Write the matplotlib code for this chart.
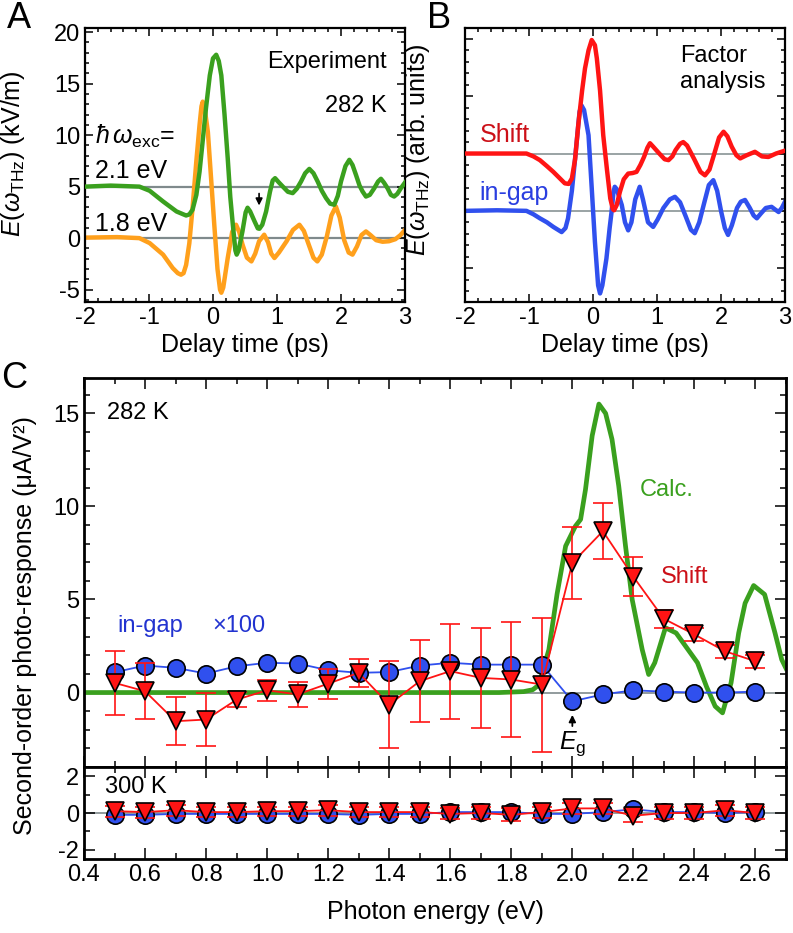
import matplotlib
matplotlib.use("Agg")
import matplotlib.pyplot as plt
import numpy as np
from matplotlib.ticker import MultipleLocator, FormatStrFormatter

plt.rcParams['font.family'] = ['Liberation Sans', 'DejaVu Sans']
plt.rcParams['mathtext.fontset'] = 'custom'
plt.rcParams['mathtext.rm'] = 'Liberation Sans'
plt.rcParams['mathtext.it'] = 'Liberation Sans:italic'
plt.rcParams['axes.unicode_minus'] = False

# ---- panel A: THz waveforms (experiment, 282 K)
t_21 = [-2.0, -1.6, -1.15, -0.99, -0.78, -0.57, -0.46, -0.42, -0.37, -0.32, -0.26, -0.21,
        -0.16, -0.11, -0.05, 0.0, 0.05, 0.09, 0.13, 0.18, 0.23, 0.27, 0.31, 0.35, 0.37,
        0.40, 0.46, 0.51, 0.54, 0.58, 0.65, 0.70, 0.725, 0.77, 0.83, 0.89, 0.933, 0.97,
        1.03, 1.09, 1.17, 1.245, 1.31, 1.376, 1.44, 1.505, 1.57, 1.635, 1.70, 1.766, 1.83,
        1.895, 1.95, 2.0, 2.07, 2.13, 2.18, 2.234, 2.29, 2.337, 2.39, 2.45, 2.52, 2.58,
        2.624, 2.67, 2.727, 2.78, 2.83, 2.88, 2.936, 3.0]
e_21 = [5.0, 5.1, 5.0, 4.6, 3.56, 2.59, 2.3, 2.2, 2.3, 2.75, 4.2, 6.46,
        9.5, 12.6, 15.8, 17.45, 17.8, 17.2, 15.8, 12.0, 7.76, 4.0, 1.3, -1.2, -1.6,
        -1.2, 0.65, 2.5, 2.95, 2.6, 1.62, 0.95, 0.91, 1.3, 2.59, 4.5, 5.6, 5.82,
        5.4, 5.01, 4.5, 4.37, 4.8, 5.5, 6.3, 6.72, 6.3, 5.5, 4.6, 3.89, 3.35,
        3.24, 4.1, 5.5, 7.0, 7.6, 7.1, 6.14, 5.1, 4.53, 4.04, 4.2, 4.85, 5.5,
        5.76, 5.4, 4.85, 4.2, 4.04, 4.3, 4.85, 5.4]
t_18 = [-2.0, -1.5, -1.15, -0.99, -0.78, -0.63, -0.55, -0.50, -0.46, -0.42, -0.37, -0.32,
        -0.26, -0.21, -0.18, -0.16, -0.13, -0.08, -0.03, 0.02, 0.07, 0.11, 0.13, 0.16,
        0.23, 0.30, 0.36, 0.41, 0.46, 0.53, 0.60, 0.66, 0.72, 0.80, 0.86, 0.91, 0.96,
        1.03, 1.15, 1.25, 1.35, 1.42, 1.5, 1.57, 1.63, 1.70, 1.78, 1.85, 1.92, 1.98,
        2.05, 2.12, 2.18, 2.25, 2.32, 2.39, 2.46, 2.55, 2.65, 2.75, 2.85, 2.93, 3.0]
e_18 = [0.05, 0.1, 0.0, -0.48, -1.6, -2.9, -3.4, -3.55, -3.4, -2.6, -0.5, 2.9,
        7.5, 11.0, 12.8, 13.25, 12.6, 10.3, 5.8, 1.3, -3.0, -5.0, -5.3, -4.8,
        -1.93, 0.6, 1.3, 0.6, -0.6, -1.9, -2.26, -1.5, -0.3, 0.33, -0.4, -1.5, -1.93,
        -1.4, -0.3, 0.8, 1.3, 0.7, -0.7, -1.9, -2.26, -1.6, 0.2, 2.2, 3.07, 2.0,
        -0.2, -1.4, -1.6, -0.8, 0.3, 0.65, 0.3, -0.2, -0.35, -0.3, -0.1, 0.3, 0.8]

# ---- panel B: factor analysis components (arb. units)
t_shift = [-2.0, -1.5, -1.04, -0.93, -0.83, -0.72, -0.62, -0.53, -0.44, -0.38, -0.33, -0.28,
           -0.23, -0.17, -0.125, -0.07, -0.02, 0.03, 0.06, 0.11, 0.16, 0.22, 0.27, 0.31,
           0.33, 0.37, 0.42, 0.48, 0.55, 0.62, 0.68, 0.74, 0.797, 0.85, 0.89, 0.94, 1.036,
           1.12, 1.18, 1.24, 1.29, 1.36, 1.41, 1.47, 1.578, 1.68, 1.75, 1.82, 1.896, 1.97,
           2.04, 2.1, 2.167, 2.24, 2.30, 2.40, 2.53, 2.64, 2.74, 2.86, 2.97, 3.0]
b_shift = [1.0, 1.0, 1.0, 0.95, 0.885, 0.78, 0.68, 0.58, 0.48, 0.47, 0.565, 0.9,
           1.5, 2.1, 2.485, 2.8, 2.98, 2.89, 2.66, 2.1, 1.32, 0.7, 0.216, 0.03,
           0.01, 0.1, 0.33, 0.55, 0.65, 0.66, 0.68, 0.8, 0.94, 1.1, 1.18, 1.12, 1.0,
           0.9, 0.885, 0.95, 1.06, 1.17, 1.2, 1.14, 0.91, 0.68, 0.62, 0.72, 1.0, 1.28,
           1.38, 1.3, 1.12, 0.97, 0.915, 0.97, 1.03, 0.95, 0.94, 1.0, 1.04, 1.05]
t_gap = [-2.0, -1.5, -1.04, -0.93, -0.83, -0.72, -0.62, -0.49, -0.43, -0.39, -0.33, -0.28,
         -0.21, -0.18, -0.14, -0.07, -0.02, 0.03, 0.08, 0.11, 0.146, 0.21, 0.26, 0.29, 0.32,
         0.34, 0.37, 0.45, 0.50, 0.55, 0.60, 0.66, 0.73, 0.78, 0.86, 0.94, 1.01, 1.1, 1.2,
         1.28, 1.36, 1.45, 1.53, 1.59, 1.66, 1.74, 1.81, 1.88, 1.94, 2.0, 2.06, 2.11, 2.17,
         2.25, 2.31, 2.375, 2.45, 2.51, 2.56, 2.62, 2.7, 2.79, 2.85, 2.9, 2.95, 3.0]
b_gap = [0.0, 0.01, 0.0, -0.06, -0.13, -0.2, -0.28, -0.37, -0.3, -0.13, 0.35, 0.91,
         1.73, 1.84, 1.76, 1.32, 0.4, -0.54, -1.30, -1.44, -1.30, -0.83, -0.3, -0.02, 0.33,
         0.42, 0.38, 0.1, -0.2, -0.34, -0.2, 0.2, 0.42, 0.2, -0.2, -0.28, -0.15, 0.05, 0.2,
         0.245, 0.15, -0.1, -0.33, -0.39, -0.2, 0.15, 0.45, 0.535, 0.35, 0.0, -0.3, -0.42, -0.25,
         0.05, 0.16, 0.19, 0.05, -0.08, -0.13, -0.05, 0.05, 0.07, 0.02, -0.02, 0.05, 0.16]

# ---- panel C: spectra
energy = [0.5, 0.6, 0.7, 0.8, 0.9, 1.0, 1.1, 1.2, 1.3, 1.4, 1.5, 1.6, 1.7, 1.8, 1.9,
          2.0, 2.1, 2.2, 2.3, 2.4, 2.5, 2.6]
ingap_282 = [1.09, 1.45, 1.33, 1.02, 1.41, 1.6, 1.56, 1.2, 1.06, 1.1, 1.45, 1.6, 1.5, 1.5, 1.5,
             -0.47, -0.1, 0.12, 0.05, 0.0, 0.0, 0.05]
shift_282 = [0.52, 0.07, -1.54, -1.45, -0.38, 0.12, -0.1, 0.48, 1.06, -0.65, 0.61, 1.15, 0.79,
             0.7, 0.43, 6.97, 8.67, 6.22, 3.96, 3.12, 2.22, 1.68]
shift_282_err = [1.7, 1.5, 1.3, 1.4, 0.4, 0.55, 0.65, 0.8, 0.75, 2.35, 2.2, 2.55, 2.7, 3.1, 3.6,
                 1.95, 1.5, 1.05, 0.5, 0.36, 0.36, 0.35]
calc_e = [0.4, 1.0, 1.5, 1.76, 1.84, 1.87, 1.89, 1.923, 1.95, 1.978, 2.01, 2.027, 2.043, 2.065,
          2.087, 2.109, 2.13, 2.152, 2.174, 2.196, 2.229, 2.25, 2.27, 2.305, 2.34, 2.375, 2.41,
          2.44, 2.468, 2.492, 2.52, 2.545, 2.566, 2.594, 2.63, 2.664, 2.686, 2.7]
calc_v = [0, 0, 0, 0, 0.05, 0.15, 0.4, 2.3, 5.3, 7.87, 8.94, 9.3, 10.9, 13.8,
          15.5, 15.0, 13.6, 11.1, 7.9, 5.0, 2.3, 0.97, 1.6, 3.48, 3.2, 2.4, 1.6,
          0.3, -0.74, -1.09, 0.52, 3.2, 4.8, 5.75, 5.27, 3.2, 1.77, 1.3]
ingap_300 = [-0.1, -0.1, -0.05, -0.05, -0.05, -0.05, -0.05, -0.05, -0.1, -0.05, -0.05, 0.05,
             0.05, 0.05, -0.05, -0.05, 0.05, 0.2, 0.05, 0.05, 0.0, 0.05]
shift_300 = [0.1, 0.05, 0.15, 0.05, 0.05, 0.1, 0.1, 0.15, 0.05, 0.05, 0.05, -0.05, 0.0, -0.1,
             0.05, 0.25, 0.25, -0.15, 0.0, 0.0, 0.15, 0.0]
shift_300_err = [0.3, 0.3, 0.3, 0.25, 0.25, 0.25, 0.25, 0.3, 0.25, 0.25, 0.25, 0.3, 0.3, 0.35,
                 0.3, 0.3, 0.3, 0.35, 0.3, 0.3, 0.3, 0.3]

GREEN = '#3aa01e'
ORANGE = '#ffa01c'
RED = '#ff1414'
BLUE = '#3050ee'
GREY = '#7f8a8c'
TICK = 17
LAB = 18
TXT = 17

W, H = 793, 933
fig = plt.figure(figsize=(W / 100, H / 100), dpi=100)


def box(l, t, r, b):
    return [l / W, 1 - b / H, (r - l) / W, (b - t) / H]


def style(ax, lw=1.6, big=6, small=3):
    for s in ax.spines.values():
        s.set_linewidth(lw)
    ax.tick_params(which='both', direction='in', top=True, right=True, width=1.1,
                   labelsize=TICK)
    ax.tick_params(which='major', length=big)
    ax.tick_params(which='minor', length=small)


# ---------------- A
axA = fig.add_axes(box(85, 28, 405, 302))
axA.axhline(5, color=GREY, lw=1.6, zorder=1)
axA.axhline(0, color=GREY, lw=1.6, zorder=1)
axA.plot(t_18, e_18, color=ORANGE, lw=3.2, solid_joinstyle='round', zorder=2)
axA.plot(t_21, e_21, color=GREEN, lw=3.2, solid_joinstyle='round', zorder=3)
axA.set_xlim(-2, 3)
axA.set_ylim(-6.2, 20.4)
axA.xaxis.set_major_locator(MultipleLocator(1))
axA.xaxis.set_minor_locator(MultipleLocator(0.2))
axA.yaxis.set_major_locator(MultipleLocator(5))
axA.yaxis.set_minor_locator(MultipleLocator(1))
style(axA)
axA.set_xlabel('Delay time (ps)', fontsize=LAB, labelpad=3)
axA.set_ylabel(r'$E(\omega_{\rm THz})$ (kV/m)', fontsize=LAB, labelpad=0)
axA.yaxis.set_label_coords(-0.18, 0.54)
axA.text(2.72, 17.1, 'Experiment', ha='right', va='center', fontsize=TXT)
axA.text(2.72, 12.8, '282 K', ha='right', va='center', fontsize=TXT)
axA.text(-1.85, 9.9, r'$\hbar\,\omega_{\rm exc}$=', ha='left', va='center', fontsize=TXT + 1)
axA.text(-1.85, 6.5, '2.1 eV', ha='left', va='center', fontsize=TXT + 1)
axA.text(-1.85, 1.4, '1.8 eV', ha='left', va='center', fontsize=TXT + 1)
axA.annotate('', xy=(0.72, 2.9), xytext=(0.72, 4.6),
             arrowprops=dict(arrowstyle='-|>', color='black', lw=1.2, mutation_scale=10))
fig.text(7 / W, 1 - 18 / H, 'A', fontsize=26, va='center', ha='left')

# ---------------- B
axB = fig.add_axes(box(465, 28, 785, 302))
axB.axhline(1, color=GREY, lw=1.1, zorder=1)
axB.axhline(0, color=GREY, lw=1.1, zorder=1)
axB.plot(t_shift, b_shift, color=RED, lw=3.2, solid_joinstyle='round', zorder=3)
axB.plot(t_gap, b_gap, color=BLUE, lw=3.2, solid_joinstyle='round', zorder=2)
axB.set_xlim(-2, 3)
axB.set_ylim(-1.59, 3.19)
axB.xaxis.set_major_locator(MultipleLocator(1))
axB.xaxis.set_minor_locator(MultipleLocator(0.2))
axB.yaxis.set_major_locator(MultipleLocator(1))
axB.yaxis.set_minor_locator(MultipleLocator(0.2))
style(axB)
axB.tick_params(axis='y', labelleft=False)
axB.set_xlabel('Delay time (ps)', fontsize=LAB, labelpad=3)
axB.set_ylabel(r'$E(\omega_{\rm THz})$ (arb. units)', fontsize=LAB)
axB.yaxis.set_label_coords(-0.103, 0.555)
axB.text(1.36, 2.7, 'Factor', ha='left', va='center', fontsize=TXT)
axB.text(1.36, 2.24, 'analysis', ha='left', va='center', fontsize=TXT)
axB.text(-1.77, 1.32, 'Shift', color='#cc1018', ha='left', va='center', fontsize=TXT + 1)
axB.text(-1.77, 0.31, 'in-gap', color='#2a3ee0', ha='left', va='center', fontsize=TXT + 1)
fig.text(427 / W, 1 - 18 / H, 'B', fontsize=26, va='center', ha='left')

# ---------------- C top (282 K)
axC = fig.add_axes(box(84, 378, 786, 767))
axC.axhline(0, color=GREY, lw=1.2, zorder=1)
axC.plot(calc_e, calc_v, color=GREEN, lw=3.4, solid_joinstyle='round', zorder=2)
axC.plot(energy, ingap_282, '-o', color=BLUE, lw=1.3, ms=12.5, mfc=BLUE, mec='black',
         mew=1.2, zorder=3)
axC.errorbar(energy, shift_282, yerr=shift_282_err, fmt='none', ecolor=RED, elinewidth=1.2,
             capsize=7, capthick=1.2, zorder=4)
axC.plot(energy, shift_282, '-v', color=RED, lw=1.3, ms=12.5, mfc=RED, mec='black',
         mew=1.2, zorder=5)
axC.set_xlim(0.4, 2.7)
axC.set_ylim(-4, 16.9)
axC.xaxis.set_major_locator(MultipleLocator(0.2))
axC.xaxis.set_minor_locator(MultipleLocator(0.1))
axC.yaxis.set_major_locator(MultipleLocator(5))
axC.yaxis.set_minor_locator(MultipleLocator(1))
style(axC, lw=2.0, big=8, small=4)
axC.tick_params(axis='x', labelbottom=False)
axC.text(0.475, 15.0, '282 K', ha='left', va='center', fontsize=TXT)
axC.text(0.51, 3.6, 'in-gap', color='#2233d0', ha='left', va='center', fontsize=TXT)
axC.text(0.82, 3.6, '×100', color='#2233d0', ha='left', va='center', fontsize=TXT)
axC.text(2.22, 10.9, 'Calc.', color=GREEN, ha='left', va='center', fontsize=TXT)
axC.text(2.29, 6.2, 'Shift', color='#cc1018', ha='left', va='center', fontsize=TXT)
axC.annotate('', xy=(2.0, -1.05), xytext=(2.0, -1.95),
             arrowprops=dict(arrowstyle='-|>', color='black', lw=1.3, mutation_scale=10))
axC.text(2.0, -2.0, r'$E_{\rm g}$', ha='center', va='top', fontsize=TXT + 1)
fig.text(1 / W, 1 - 379 / H, 'C', fontsize=26, va='center', ha='left')

# ---------------- C bottom (300 K)
axD = fig.add_axes(box(84, 767, 786, 859))
axD.axhline(0, color=GREY, lw=1.2, zorder=1)
axD.plot(energy, ingap_300, '-o', color=BLUE, lw=1.3, ms=12.5, mfc=BLUE, mec='black',
         mew=1.2, zorder=3)
axD.errorbar(energy, shift_300, yerr=shift_300_err, fmt='none', ecolor=RED, elinewidth=1.2,
             capsize=7, capthick=1.2, zorder=4)
axD.plot(energy, shift_300, '-v', color=RED, lw=1.3, ms=12.5, mfc=RED, mec='black',
         mew=1.2, zorder=5)
axD.set_xlim(0.4, 2.7)
axD.set_ylim(-2.5, 2.5)
axD.xaxis.set_major_locator(MultipleLocator(0.2))
axD.xaxis.set_minor_locator(MultipleLocator(0.1))
axD.xaxis.set_major_formatter(FormatStrFormatter('%.1f'))
axD.yaxis.set_major_locator(MultipleLocator(2))
axD.yaxis.set_minor_locator(MultipleLocator(1))
style(axD, lw=2.0, big=8, small=4)
axD.text(0.47, 1.42, '300 K', ha='left', va='center', fontsize=TXT)
axD.set_xlabel('Photon energy (eV)', fontsize=LAB, labelpad=10)

fig.text(25 / W, 1 - 626 / H, 'Second-order photo-response (μA/V²)', rotation=90,
         ha='center', va='center', fontsize=LAB)

fig.savefig('out.png', dpi=100)
